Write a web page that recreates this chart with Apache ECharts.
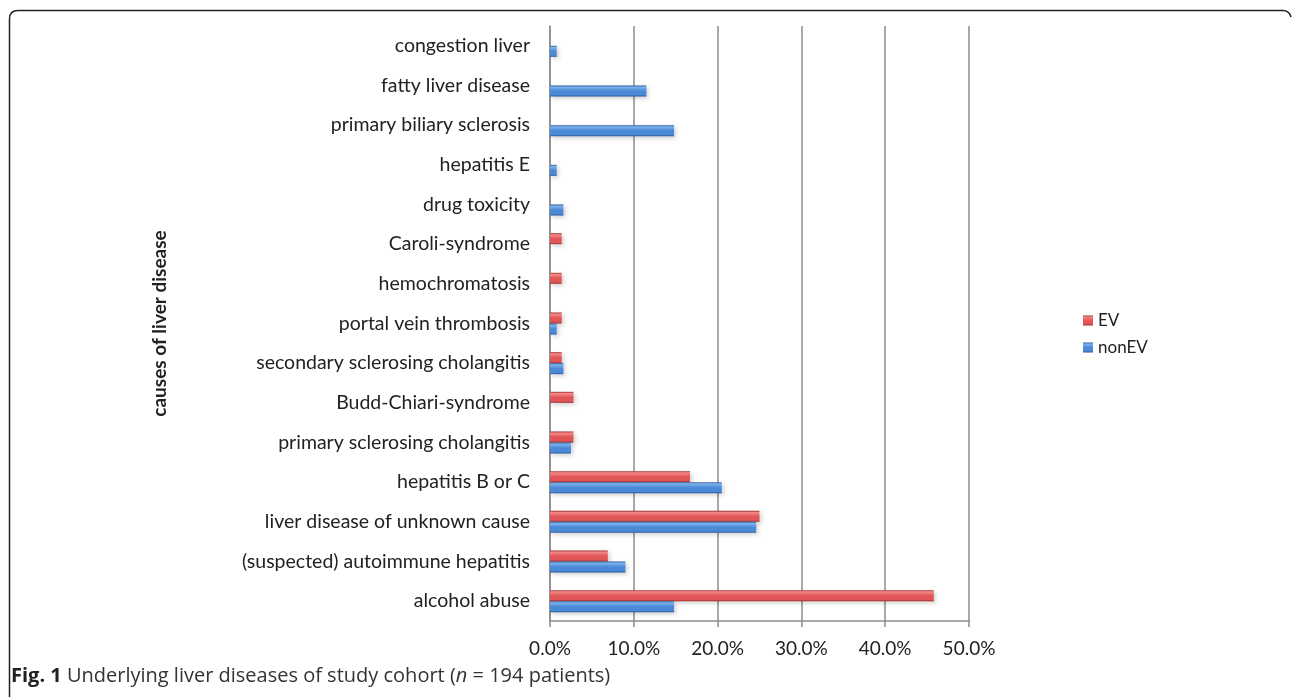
<!DOCTYPE html>
<html>
<head>
<meta charset="utf-8">
<script src="https://cdn.jsdelivr.net/npm/echarts@6/dist/echarts.min.js"></script>
<style>
html,body{margin:0;padding:0;background:#fff;}
#chart{width:1293px;height:697px;}
</style>
</head>
<body>
<div id="chart"></div>
<script>
// categories listed bottom to top
var categories = [
  'alcohol abuse',
  '(suspected) autoimmune hepatitis',
  'liver disease of unknown cause',
  'hepatitis B or C',
  'primary sclerosing cholangitis',
  'Budd-Chiari-syndrome',
  'secondary sclerosing cholangitis',
  'portal vein thrombosis',
  'hemochromatosis',
  'Caroli-syndrome',
  'drug toxicity',
  'hepatitis E',
  'primary biliary sclerosis',
  'fatty liver disease',
  'congestion liver'
];
var evValues    = [45.8, 6.9, 25.0, 16.7, 2.8, 2.8, 1.4, 1.4, 1.4, 1.4, 0, 0, 0, 0, 0];
var nonEvValues = [14.8, 9.0, 24.6, 20.5, 2.5, 0, 1.6, 0.8, 0, 0, 1.6, 0.8, 14.8, 11.5, 0.8];
var xTicks = [0, 10, 20, 30, 40, 50];

var chart = echarts.init(document.getElementById('chart'));

function grad(light, mid, dark) {
  return {
    type: 'linear', x: 0, y: 0, x2: 0, y2: 1,
    colorStops: [
      {offset: 0, color: dark},
      {offset: 0.15, color: light},
      {offset: 0.5, color: mid},
      {offset: 0.85, color: mid},
      {offset: 1, color: dark}
    ]
  };
}
var evColor = grad('#f48a88', '#e05656', '#9e2b2b');
var nonEvColor = grad('#7db3ee', '#4a89d6', '#27579a');

var font = 'Lato, "Open Sans", sans-serif';
var capFont = '"Open Sans", "DejaVu Sans", sans-serif';
var frameStyle = {fill: null, stroke: '#222', lineWidth: 1.5};

chart.setOption({
  animation: false,
  backgroundColor: '#ffffff',
  grid: {left: 550, right: 324, top: 26, bottom: 76, containLabel: false},
  legend: {
    orient: 'vertical',
    left: 1078,
    top: 307,
    itemWidth: 10,
    itemHeight: 10,
    itemGap: 10,
    data: [
      {name: 'EV', icon: 'rect'},
      {name: 'nonEV', icon: 'rect'}
    ],
    textStyle: {fontFamily: font, fontSize: 17, color: '#222'}
  },
  xAxis: {
    type: 'value',
    min: xTicks[0],
    max: xTicks[xTicks.length - 1],
    interval: 10,
    axisLine: {show: true, lineStyle: {color: '#8c8c8c', width: 1.5}},
    axisTick: {show: true, length: 6, lineStyle: {color: '#8c8c8c', width: 1.5}},
    splitLine: {show: true, lineStyle: {color: '#8c8c8c', width: 1.5}},
    axisLabel: {
      margin: 18,
      fontFamily: font, fontSize: 19, color: '#222',
      formatter: function (v) { return v.toFixed(1) + '%'; }
    }
  },
  yAxis: {
    type: 'category',
    data: categories,
    name: 'causes of liver disease',
    nameLocation: 'middle',
    nameGap: 381,
    nameRotate: 90,
    nameTextStyle: {fontFamily: font, fontSize: 19, fontWeight: 'bold', color: '#222', padding: [0, 0, 0, 0]},
    axisLine: {show: true, lineStyle: {color: '#8c8c8c', width: 1.5}},
    axisTick: {show: false},
    axisLabel: {margin: 20, fontFamily: font, fontSize: 19.5, color: '#222'}
  },
  series: [
    {
      name: 'EV', type: 'bar', data: evValues,
      barWidth: 11, barGap: '0%',
      itemStyle: {color: evColor, shadowColor: 'rgba(0,0,0,0.18)', shadowBlur: 4, shadowOffsetX: 2, shadowOffsetY: 2}
    },
    {
      name: 'nonEV', type: 'bar', data: nonEvValues,
      barWidth: 11, barGap: '0%',
      itemStyle: {color: nonEvColor, shadowColor: 'rgba(0,0,0,0.18)', shadowBlur: 4, shadowOffsetX: 2, shadowOffsetY: 2}
    }
  ],
  graphic: [
    {type: 'line', shape: {x1: 9.5, y1: 697, x2: 9.5, y2: 19}, style: frameStyle},
    {type: 'bezierCurve', shape: {x1: 9.5, y1: 19, cpx1: 9.5, cpy1: 10.5, x2: 18, y2: 10.5}, style: frameStyle},
    {type: 'line', shape: {x1: 18, y1: 10.5, x2: 1283, y2: 10.5}, style: frameStyle},
    {type: 'bezierCurve', shape: {x1: 1283, y1: 10.5, cpx1: 1289, cpy1: 10.5, x2: 1291, y2: 17}, style: frameStyle},
    {
      type: 'text', left: 11, top: 666,
      style: {
        text: '{b|Fig. 1} Underlying liver diseases of study cohort ({i|n} = 194 patients)',
        rich: {
          b: {fontFamily: capFont, fontSize: 20, fontWeight: 'bold', fill: '#222'},
          i: {fontFamily: capFont, fontSize: 20, fontStyle: 'italic', fill: '#333'}
        },
        fontFamily: capFont, fontSize: 20, fill: '#333'
      }
    }
  ]
});
</script>
</body>
</html>
